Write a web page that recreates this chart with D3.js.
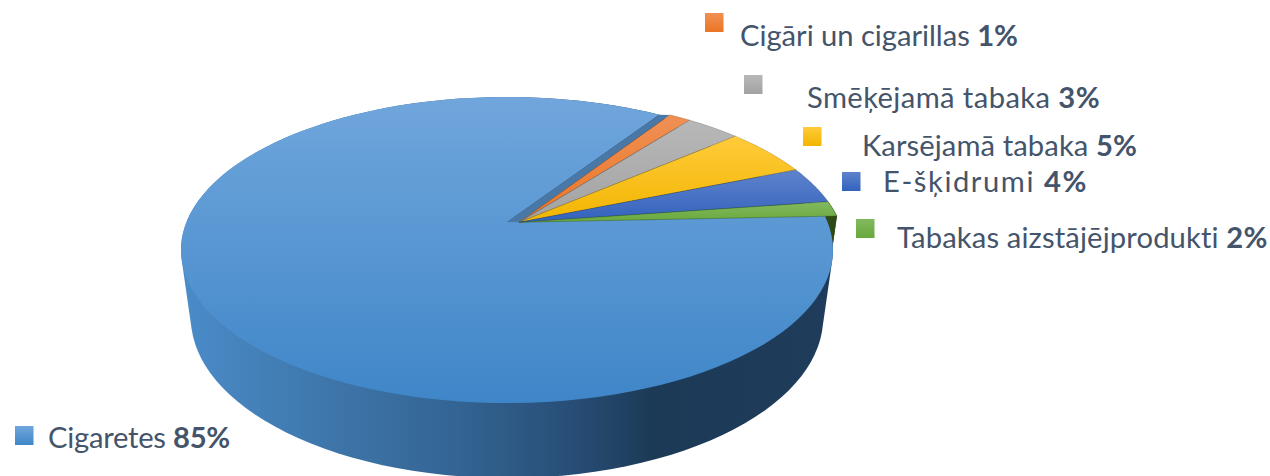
<!DOCTYPE html>
<html>
<head>
<meta charset="utf-8">
<script src="https://cdn.jsdelivr.net/npm/d3@7"></script>
<style>
html, body { margin: 0; padding: 0; background: #fff; overflow: hidden; }
text { font-family: Lato, "Open Sans", sans-serif; fill: #44546a; }
</style>
</head>
<body>
<script>
// clockwise from the orange slice
const categories = ["Cigāri un cigarillas", "Smēķējamā tabaka", "Karsējamā tabaka", "E-šķidrumi", "Tabakas aizstājējprodukti", "Cigaretes"];
const shares = [1.3, 3.2, 5.1, 3.9, 1.6, 84.9];
const shareLabels = ["1%", "3%", "5%", "4%", "2%", "85%"];

const colorsLight = ["#f09055", "#b8b8b8", "#ffcb3a", "#5f83cc", "#82ba5e", "#70a6dc"];
const colorsDark = ["#eb7524", "#a2a2a2", "#f2b500", "#3262bd", "#68a83c", "#3f86c8"];
const colorsSide = ["#8a4a1c", "#606060", "#8f6c00", "#1f3b73", "#2e4a14", "#4a78a6"];

// legend layout: swatch x,y then text x,baseline,width
const legendPos = [
  [705, 13, 740, 46, 278],
  [744, 75, 807, 108, 293],
  [803, 127, 862, 156, 275],
  [842, 172, 883, 192, 205],
  [856, 219, 897, 248, 371],
  [15, 426, 48, 448, 182]
];

const width = 1270, height = 476;
const pieView = {apexX: 507, apexY: 222, a: 320.5, b: 147.9, tilt: 0.183, depth: 69, shrink: 0.03};
const explode = {u: 0.038, v: 0.002};
const steps = 120;

let svg = d3.select("body").append("svg")
  .attr("width", width)
  .attr("height", height)
  .style("display", "block");

let defs = svg.append("defs");

categories.forEach(function(c, i){
  let g = defs.append("linearGradient")
    .attr("id", "top" + i)
    .attr("x1", 0).attr("y1", 0).attr("x2", 0).attr("y2", 1);
  g.append("stop").attr("offset", 0).attr("stop-color", colorsLight[i]);
  g.append("stop").attr("offset", 1).attr("stop-color", colorsDark[i]);
});

// wall of the big slice: light on the left, darkest around the front right
let wallGrad = defs.append("linearGradient")
  .attr("id", "wall")
  .attr("gradientUnits", "userSpaceOnUse")
  .attr("x1", 185).attr("y1", 0).attr("x2", 835).attr("y2", 0);
[[0, "#4a8bc8"], [0.2, "#3f78ad"], [0.42, "#336493"], [0.6, "#274d75"], [0.72, "#1c3a56"], [1, "#1f3c5c"]]
  .forEach(function(s){
    wallGrad.append("stop").attr("offset", s[0]).attr("stop-color", s[1]);
  });

let angles = d3.pie().sort(null).value(d => d)
  .startAngle(33.2 * Math.PI / 180)
  .endAngle((33.2 + 360) * Math.PI / 180)(shares);

// disc coordinates (u right, v to the viewer, z down) to screen, with perspective
let project = function(u, v, z){
  let w = 1 - pieView.tilt * v + pieView.shrink * z;
  return [pieView.apexX + pieView.a * u / w,
          pieView.apexY + (pieView.b * v + pieView.depth * z) / w];
};

let rimPoint = function(t, z, off){
  return project(Math.sin(t) + off.u, -Math.cos(t) + off.v, z);
};

let rim = function(t0, t1, z, off){
  return d3.range(steps + 1).map(i => rimPoint(t0 + (t1 - t0) * i / steps, z, off));
};

let line = d3.line();
let none = {u: 0, v: 0};

let topFace = function(d, off){
  return line([project(off.u, off.v, 0)].concat(rim(d.startAngle, d.endAngle, 0, off))) + "Z";
};
// outline of the rim swept down, the top face covers the part behind it
let wallFace = function(d, off){
  return line(d3.polygonHull(rim(d.startAngle, d.endAngle, 0, off).concat(rim(d.startAngle, d.endAngle, 1, off)))) + "Z";
};
let cutFace = function(t, off){
  return line([project(off.u, off.v, 0), rimPoint(t, 0, off), rimPoint(t, 1, off), project(off.u, off.v, 1)]) + "Z";
};

let big = angles[5];
let small = angles.slice(0, 5);

// sides first, the tops go over them. of the small slices only green shows a side
svg.append("path")
  .attr("d", wallFace(small[4], explode))
  .attr("fill", colorsSide[4]);

svg.append("path")
  .attr("d", cutFace(small[4].endAngle, explode))
  .attr("fill", colorsSide[4]);

svg.append("path")
  .attr("d", cutFace(big.endAngle, none))
  .attr("fill", colorsSide[5]);

svg.append("path")
  .attr("d", wallFace(big, none))
  .attr("fill", "url(#wall)");

svg.append("path")
  .attr("d", topFace(big, none))
  .attr("fill", "url(#top5)");

// thin darker band along the cut edge of the big slice
svg.append("path")
  .attr("d", line([project(0, 0, 0), rimPoint(big.endAngle, 0, none), rimPoint(small[0].startAngle, 0, explode), project(explode.u, explode.v, 0)]) + "Z")
  .attr("fill", colorsSide[5]);

svg.append("g").selectAll("path")
  .data(small)
  .join("path")
  .attr("d", d => topFace(d, explode))
  .attr("fill", (d, i) => "url(#top" + i + ")")
  .attr("stroke", (d, i) => colorsSide[i])
  .attr("stroke-width", 0.5)
  .attr("stroke-opacity", 0.7);

// legend
let legend = svg.append("g").selectAll("g")
  .data(categories)
  .join("g");

legend.append("rect")
  .attr("x", (d, i) => legendPos[i][0])
  .attr("y", (d, i) => legendPos[i][1])
  .attr("width", 18.5)
  .attr("height", 19)
  .attr("fill", (d, i) => "url(#top" + i + ")");

let labels = legend.append("text")
  .attr("x", (d, i) => legendPos[i][2])
  .attr("y", (d, i) => legendPos[i][3])
  .attr("font-size", 29.2);

labels.append("tspan").text(d => d + " ");
labels.append("tspan").attr("font-weight", 700).text((d, i) => shareLabels[i]);

// Lato runs a bit different from the original font, spread each label to its width
labels.attr("letter-spacing", function(d, i){
  return (legendPos[i][4] - this.getComputedTextLength()) / this.textContent.length;
});
</script>
</body>
</html>
